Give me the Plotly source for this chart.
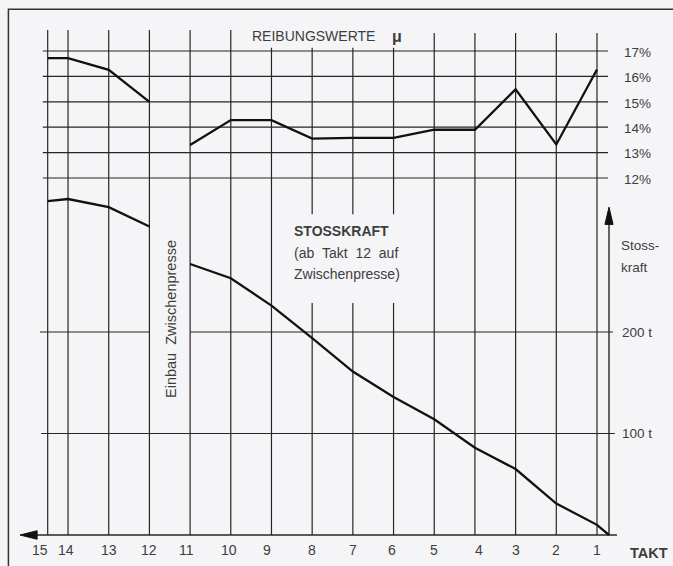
import plotly.graph_objects as go

# ---------------- data ----------------
takt_labels = ["15", "14", "13", "12", "11", "10", "9", "8", "7", "6", "5", "4", "3", "2", "1"]
takt_pos = [14.5, 14, 13, 12, 11, 10, 9, 8, 7, 6, 5, 4, 3, 2, 1]
label_pos = [14.7, 14.05, 13, 12, 11.1, 10.05, 9.1, 8, 7, 6.05, 5, 3.9, 3, 2, 1]

# Stosskraft (t)
force_x1 = [14.5, 14, 13, 12]
force_y1 = [329, 331, 323, 304]
force_x2 = [11, 10, 9, 8, 7, 6, 5, 4, 3, 2, 1, 0.705]
force_y2 = [267, 253, 226, 194, 161, 136, 114, 86, 65, 31, 10, 0]

# Reibungswerte (%)
fric_x1 = [14.5, 14, 13, 12]
fric_y1 = [16.72, 16.72, 16.26, 15.0]
fric_x2 = [11, 10, 9, 8, 7, 6, 5, 4, 3, 2, 1]
fric_y2 = [13.3, 14.28, 14.28, 13.55, 13.58, 13.58, 13.9, 13.9, 15.49, 13.32, 16.27]

pct_ticks = [17, 16, 15, 14, 13, 12]
pct_labels = ["17%", "16%", "15%", "14%", "13%", "12%"]
force_ticks = [200, 100]
force_labels = ["200 t", "100 t"]

AXIS_X = 0.705  # position of the vertical force axis

INK = "#262626"
TXT = "#3d3d3d"
BG = "#f5f5f7"

fig = go.Figure()

# curves
fig.add_trace(go.Scatter(x=force_x1 + [None] + force_x2, y=force_y1 + [None] + force_y2,
                         mode="lines", line=dict(color="#111", width=2.3), yaxis="y",
                         connectgaps=False, hoverinfo="skip"))
fig.add_trace(go.Scatter(x=fric_x1 + [None] + fric_x2, y=fric_y1 + [None] + fric_y2,
                         mode="lines", line=dict(color="#111", width=2.3), yaxis="y2",
                         connectgaps=False, hoverinfo="skip"))

shapes = []
def seg(x0, y0, x1, y1, yref="y", w=1.2):
    shapes.append(dict(type="line", xref="x", yref=yref, x0=x0, y0=y0, x1=x1, y1=y1,
                       line=dict(color=INK, width=w), layer="below"))

# vertical grid lines
for p in takt_pos:
    if p >= 10:
        seg(p, 0, p, 497.5)
    elif p == 9:
        seg(p, 0, p, 480)
    elif p in (8, 7, 6):
        seg(p, 0, p, 228.6)
        seg(p, 316, p, 480)
    else:
        seg(p, 0, p, 494.6)

# friction horizontal lines
for v in pct_ticks:
    seg(14.62, v, 0.73, v, yref="y2")

# force horizontal lines
seg(14.69, 200, 12, 200)
seg(11, 200, 0.607, 200)
seg(14.66, 100, 0.56, 100)
# base axis (TAKT)
seg(14.8, 0, 0.51, 0, w=1.4)
# vertical force axis
seg(AXIS_X, 0, AXIS_X, 308, w=1.4)

# arrowheads
shapes.append(dict(type="path", xref="x", yref="y",
                   path="M 15.18 0 L 14.76 4.2 L 14.76 -4.2 Z",
                   fillcolor="#111", line=dict(color="#111", width=1)))
shapes.append(dict(type="path", xref="x", yref="y",
                   path=f"M {AXIS_X} 323 L {AXIS_X-0.1} 306 L {AXIS_X+0.1} 306 Z",
                   fillcolor="#111", line=dict(color="#111", width=1)))

# frame
shapes.append(dict(type="rect", xref="paper", yref="paper", x0=0.0125, y0=-0.1, x1=1.1, y1=0.9835,
                   line=dict(color="#333", width=1.5), layer="below"))

ann = []
FONT = "Liberation Sans, Arial, sans-serif"
def txt(x, y, s, yref="y", size=14, xanchor="left", bold=False, angle=0):
    ann.append(dict(x=x, y=y, xref="x", yref=yref, text=f"<b>{s}</b>" if bold else s,
                    showarrow=False, xanchor=xanchor, yanchor="middle", textangle=angle,
                    font=dict(family=FONT, size=size, color=TXT)))

for lab, p in zip(takt_labels, label_pos):
    txt(p, -14.8, lab, xanchor="center", size=14)
txt(0.238, -17.7, "TAKT", size=14.5, bold=True)

for lab, v in zip(pct_labels, pct_ticks):
    txt(0.386, v - 0.05, lab, yref="y2", size=13.5)
for lab, v in zip(force_labels, force_ticks):
    txt(0.435, v, lab, size=13.5)

txt(0.46, 285.7, "Stoss-", size=13.5)
txt(0.46, 264.0, "kraft", size=13.5)

txt(9.53, 17.59, "REIBUNGSWERTE", yref="y2", size=14)
txt(5.915, 17.56, "<b>μ</b>", yref="y2", size=16, xanchor="center")

txt(8.50, 299.5, "STOSSKRAFT", size=14, bold=True)
txt(8.50, 277.8, "(ab\u00a0\u00a0Takt\u00a0\u00a012\u00a0\u00a0auf", size=14)
txt(8.50, 257.1, "Zwischenpresse)", size=14)

txt(11.47, 212.8, "Einbau\u00a0\u00a0Zwischenpresse", size=14.5, xanchor="center", angle=-90)

fig.update_layout(
    width=673, height=566, autosize=False,
    margin=dict(l=0, r=0, t=0, b=0),
    paper_bgcolor=BG, plot_bgcolor=BG,
    showlegend=False,
    xaxis=dict(range=[15.672, -0.868], visible=False, fixedrange=True),
    yaxis=dict(range=[-30.54, 527.09], visible=False, fixedrange=True),
    yaxis2=dict(range=[-3.276, 19.008], visible=False, fixedrange=True, overlaying="y"),
    shapes=shapes,
    annotations=ann,
)

fig.write_html(
    "out.html",
    config={"displayModeBar": False},
    post_script="document.body.style.margin='0';document.body.style.background='%s';" % BG,
)
